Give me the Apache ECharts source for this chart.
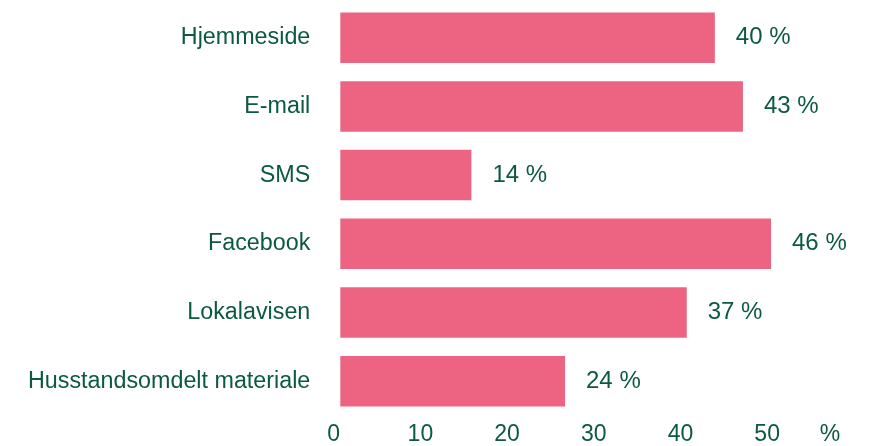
<!DOCTYPE html>
<html>
<head>
<meta charset="utf-8">
<script src="https://cdn.jsdelivr.net/npm/echarts@6/dist/echarts.min.js"></script>
<style>html,body{margin:0;padding:0;background:#fff;}#c{width:874px;height:446px;}</style>
</head>
<body>
<div id="c"></div>
<script>
const categories = ['Hjemmeside', 'E-mail', 'SMS', 'Facebook', 'Lokalavisen', 'Husstandsomdelt materiale'];
const values = [40, 43, 14, 46, 37, 24];
const tickLabels = [0, 10, 20, 30, 40, 50];
const unitLabel = '%';

const textColor = '#0b5a3d';
const barColor = '#ec6482';
const font = 'Liberation Sans, Arial, sans-serif';

const chart = echarts.init(document.getElementById('c'));
chart.setOption({
  animation: false,
  backgroundColor: '#fff',
  grid: [
    { left: 340.3, width: 515, top: 3.4, bottom: 30.5, containLabel: false },
    { left: 333.7, width: 496.3, top: 3.4, bottom: 30, containLabel: false }
  ],
  xAxis: [
    { gridIndex: 0, type: 'value', min: 0, max: 55, show: false },
    {
      gridIndex: 1, type: 'value', min: 0, max: 57.25, interval: 10,
      axisLine: { show: false }, axisTick: { show: false }, splitLine: { show: false },
      axisLabel: {
        margin: 9, color: textColor, fontSize: 23, fontFamily: font,
        showMaxLabel: true,
        formatter: function (v) {
          if (v > tickLabels[tickLabels.length - 1]) return unitLabel;
          return tickLabels.indexOf(v) >= 0 ? String(v) : '';
        }
      }
    }
  ],
  yAxis: [
    {
      gridIndex: 0, type: 'category', data: categories, inverse: true,
      axisLine: { show: false }, axisTick: { show: false },
      axisLabel: { margin: 30, color: textColor, fontSize: 23.3, fontFamily: font }
    },
    { gridIndex: 1, type: 'value', show: false }
  ],
  series: [
    {
      type: 'bar', xAxisIndex: 0, yAxisIndex: 0,
      data: values, barWidth: '73.5%',
      itemStyle: { color: barColor },
      label: {
        show: true, position: 'right', distance: 21,
        color: textColor, fontSize: 24, fontFamily: font,
        formatter: function (p) { return p.value + ' %'; }
      }
    }
  ]
});
</script>
</body>
</html>
